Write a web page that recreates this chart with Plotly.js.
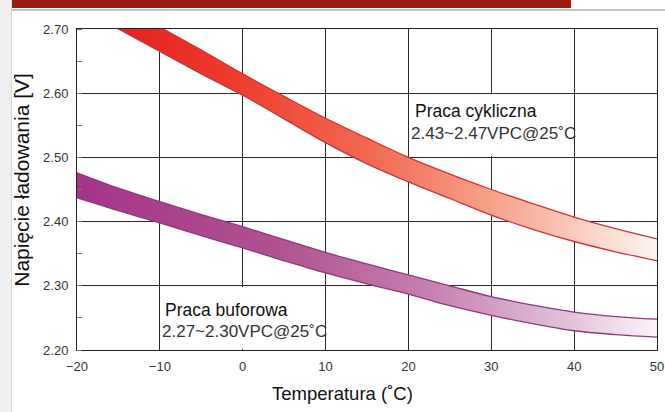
<!DOCTYPE html>
<html><head><meta charset="utf-8">
<script src="https://cdn.plot.ly/plotly-3.0.1.min.js"></script>
<style>
html,body{margin:0;padding:0;background:#fff;}
#wrap{position:relative;width:665px;height:412px;overflow:hidden;background:#fff;}
#chart{position:absolute;left:0;top:0;width:665px;height:412px;}
.bar{position:absolute;left:12px;top:0;width:559px;height:8px;background:#9b1b0f;z-index:5}
.rule{position:absolute;left:12px;top:9px;width:653px;height:2px;background:#c4c4c4;z-index:5}
.side{position:absolute;left:0;top:0;width:11px;height:412px;background:#efefef;border-right:1px solid #d6d6d6;z-index:5}
</style></head>
<body><div id="wrap"><div id="chart"></div><div class="side"></div><div class="bar"></div><div class="rule"></div></div>
<script>
// Temperature (°C)
const temps = [-20,-15,-10,-5,0,5,10,15,20,25,30,35,40,45,50];
// Praca cykliczna band (V)
const cycUpper = [2.780,2.740,2.703,2.667,2.630,2.595,2.561,2.530,2.500,2.474,2.450,2.428,2.407,2.389,2.373];
const cycLower = [2.735,2.700,2.665,2.630,2.597,2.560,2.523,2.490,2.462,2.436,2.410,2.388,2.369,2.353,2.339];
// Praca buforowa band (V)
const bufUpper = [2.476,2.452,2.431,2.411,2.392,2.372,2.352,2.334,2.317,2.300,2.283,2.270,2.259,2.252,2.248];
const bufLower = [2.437,2.417,2.398,2.378,2.359,2.339,2.320,2.303,2.287,2.269,2.254,2.241,2.230,2.224,2.220];
// Axis ticks
const xTicks = [-20,-10,0,10,20,30,40,50];
const yTicks = [2.20,2.30,2.40,2.50,2.60,2.70];
const yTickText = ["2.20","2.30","2.40","2.50","2.60","2.70"];
// Texts
const cycLabel = "Praca cykliczna";
const cycRange = "2.43~2.47VPC@25˚C";
const bufLabel = "Praca buforowa";
const bufRange = "2.27~2.30VPC@25˚C";
const xTitle = "Temperatura (˚C)";
const yTitle = "Napięcie ładowania [V]";

const FONT = "Liberation Sans, Arial, sans-serif";
const redEdge = "#c9343a", purEdge = "#8b3a7c";

const traces = [
  {x: temps, y: cycLower, mode: "lines", line: {color: redEdge, width: 1.3, shape: "spline"}, hoverinfo: "skip"},
  {x: temps, y: cycUpper, mode: "lines", fill: "tonexty", line: {color: redEdge, width: 1.3, shape: "spline"},
   fillgradient: {type: "horizontal", colorscale: [[0, "#e3161a"], [0.25, "#ec3a2c"], [0.5, "#f1684f"], [0.75, "#f6ab94"], [1, "#fff5f2"]]}, hoverinfo: "skip"},
  {x: temps, y: bufLower, mode: "lines", line: {color: purEdge, width: 1.3, shape: "spline"}, hoverinfo: "skip"},
  {x: temps, y: bufUpper, mode: "lines", fill: "tonexty", line: {color: purEdge, width: 1.3, shape: "spline"},
   fillgradient: {type: "horizontal", colorscale: [[0, "#a3358a"], [0.35, "#b2528f"], [0.6, "#c47eb0"], [0.85, "#e3c2da"], [1, "#fbf4f9"]]}, hoverinfo: "skip"}
];

const layout = {
  width: 665, height: 412,
  margin: {l: 77, r: 8, t: 29, b: 62, pad: 0},
  paper_bgcolor: "rgba(0,0,0,0)", plot_bgcolor: "#fff",
  showlegend: false,
  font: {family: FONT, color: "#333"},
  xaxis: {range: [-20, 50], tickvals: xTicks, showgrid: true, gridcolor: "#2a2a2a", gridwidth: 1,
          showline: true, mirror: true, linecolor: "#222", linewidth: 1, zeroline: false,
          ticks: "", ticklabelstandoff: 4, tickfont: {size: 13, color: "#333", family: FONT}},
  yaxis: {range: [2.20, 2.70], tickvals: yTicks, ticktext: yTickText, showgrid: true, gridcolor: "#2a2a2a", gridwidth: 1,
          showline: true, mirror: true, linecolor: "#222", linewidth: 1, zeroline: false,
          ticks: "", ticklabelstandoff: 5, tickfont: {size: 13, color: "#333", family: FONT},
          minor: {dtick: 0.05, tick0: 2.2, ticks: "inside", ticklen: 5, tickcolor: "#777", showgrid: false}},
  shapes: [
    {type: "rect", xref: "x", yref: "y", x0: 20.2, x1: 39.8, y0: 2.502, y1: 2.598, fillcolor: "#fff", line: {width: 0}, layer: "between"},
    {type: "rect", xref: "x", yref: "y", x0: -9.8, x1: 9.8, y0: 2.202, y1: 2.298, fillcolor: "#fff", line: {width: 0}, layer: "between"}
  ],
  annotations: [
    {xref: "x", yref: "y", x: 20.6, y: 2.573, text: cycLabel, showarrow: false, xanchor: "left", yanchor: "middle", font: {size: 17.5, color: "#111", family: FONT}},
    {xref: "x", yref: "y", x: 20.05, y: 2.537, text: cycRange, showarrow: false, xanchor: "left", yanchor: "middle", font: {size: 17, color: "#333", family: FONT}},
    {xref: "x", yref: "y", x: -9.6, y: 2.263, text: bufLabel, showarrow: false, xanchor: "left", yanchor: "middle", font: {size: 17.5, color: "#111", family: FONT}},
    {xref: "x", yref: "y", x: -9.95, y: 2.229, text: bufRange, showarrow: false, xanchor: "left", yanchor: "middle", font: {size: 17, color: "#333", family: FONT}},
    {xref: "paper", yref: "paper", x: 0.457, y: -0.137, text: xTitle, showarrow: false, xanchor: "center", yanchor: "middle", font: {size: 18.5, color: "#111", family: FONT}},
    {xref: "paper", yref: "paper", x: -0.095, y: 0.53, text: yTitle, textangle: -90, showarrow: false, xanchor: "center", yanchor: "middle", font: {size: 21, color: "#111", family: FONT}}
  ]
};

Plotly.newPlot("chart", traces, layout, {staticPlot: true, displayModeBar: false});
</script>
</body></html>
